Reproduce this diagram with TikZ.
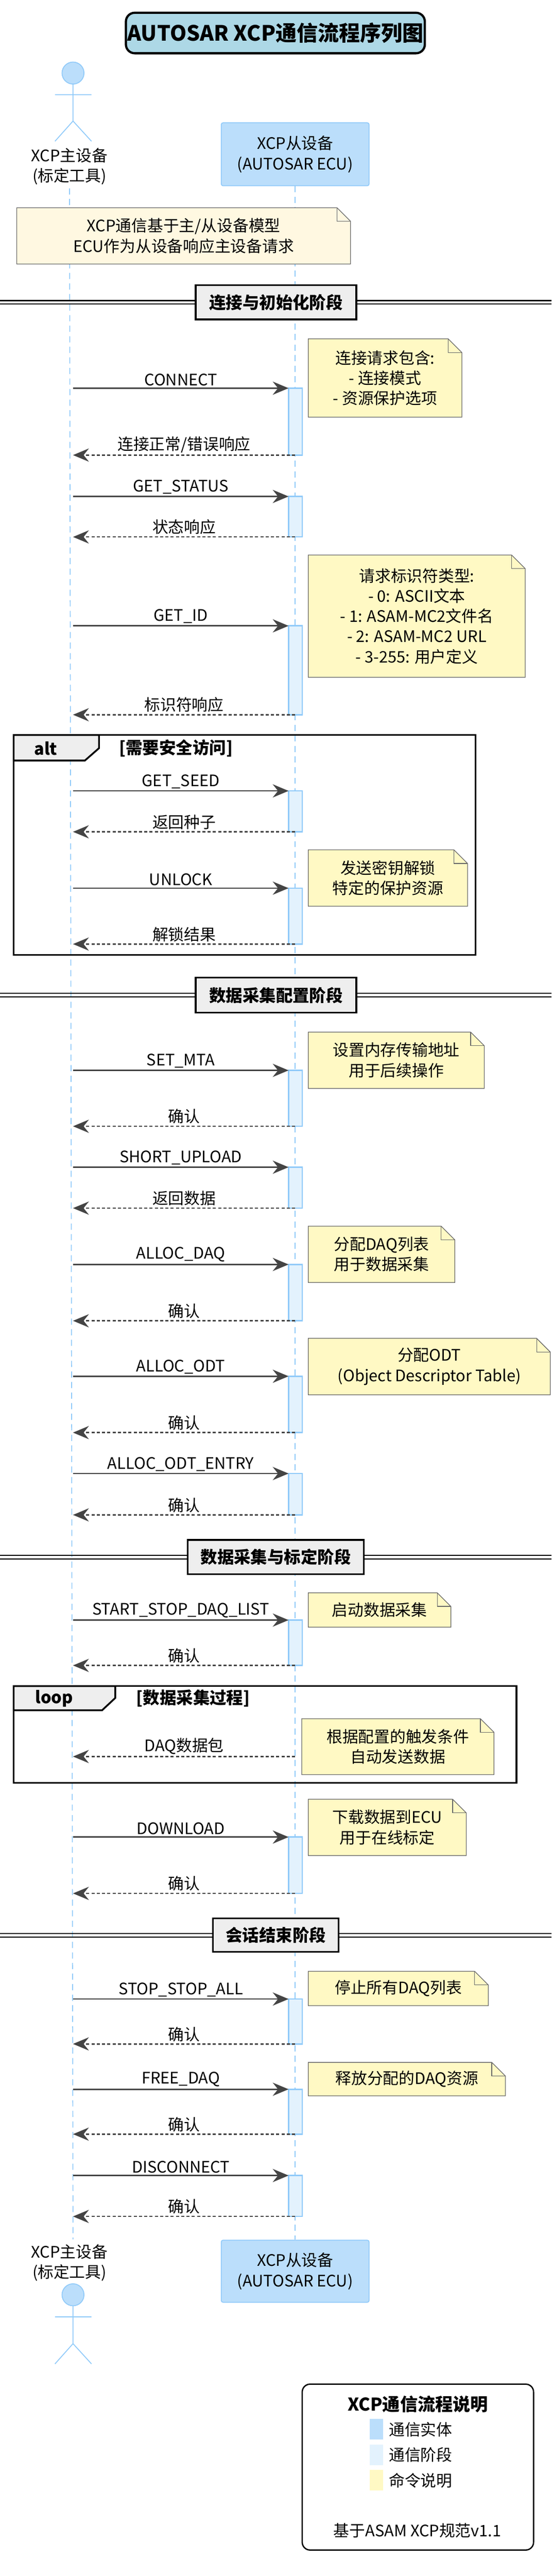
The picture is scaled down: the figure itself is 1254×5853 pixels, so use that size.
\documentclass[tikz,border=0pt]{standalone}
\usepackage{fontspec}
\setmainfont{Noto Sans CJK SC}
\usetikzlibrary{arrows.meta}
\definecolor{pfill}{HTML}{BBDEFB}
\definecolor{pline}{HTML}{90CAF9}
\definecolor{actfill}{HTML}{E3F2FD}
\definecolor{nfill}{HTML}{FFF9C4}
\definecolor{nfillA}{HTML}{FFF8E1}
\definecolor{arr}{HTML}{444444}
\definecolor{tfill}{HTML}{ADD8E6}
\definecolor{gfill}{HTML}{EEEEEE}
\newcommand\fsn{\fontsize{36}{46}\selectfont}
\newcommand\fsb{\fontsize{38}{46}\selectfont\bfseries}
\newcommand\reqmsg[3]{%
  \coordinate (#1s) at (166,#2); \coordinate (#1e) at (656,#2);
  \draw[reqarrow] (#1s) -- (#1e) node[msglabel]{#3};}
\newcommand\repmsg[3]{%
  \coordinate (#1s) at (671,#2); \coordinate (#1e) at (166,#2);
  \draw[reparrow] (#1s) -- (#1e) node[msglabel]{#3};}
\newcommand\actbar[3]{\path[actbox] (656,#2) rectangle (687,#3) coordinate (#1);}
\newcommand\notebox[7]{%
  \path[notedraw,fill=#6] (#2,#3) -- (#4-31,#3) -- (#4,#3+31) -- (#4,#5) -- (#2,#5) -- cycle;
  \draw[notedraw] (#4-31,#3) -- (#4-31,#3+31) -- (#4,#3+31);
  \node[align=center,font=\fsn] (#1) at ({(#2+#4)/2},{(#3+#5)/2}) {#7};}
\newcommand\divider[5]{%
  \draw[line width=2.5] (0,#1-4) -- (1254,#1-4);
  \draw[line width=2.5] (0,#1+4) -- (1254,#1+4);
  \node[draw=black,line width=4,fill=gfill,minimum width=#3-#2,minimum height=#4,font=\fsb,inner sep=0] (#5) at ({(#2+#3)/2},#1) {#5};}
\newcommand\actor[5]{%
  \draw[pline,line width=2,fill=pfill] (166,#2) circle (25);
  \draw[pline,line width=2] (166,#2+25) -- (166,#4) (125,#3) -- (208,#3)
     (125,#5) -- (166,#4) -- (208,#5);}
\begin{document}
\begin{tikzpicture}[x=1pt,y=-1pt,
  reqarrow/.style={draw=arr,line width=3,-{Stealth[length=36pt,width=30pt,inset=12pt]}},
  reparrow/.style={draw=arr,line width=3,dash pattern=on 7pt off 5pt,-{Stealth[length=36pt,width=30pt,inset=12pt]}},
  msglabel/.style={midway,above=2pt,font=\fsn,inner sep=2pt},
  actbox/.style={fill=actfill,draw=pline,line width=3},
  notedraw/.style={draw=black!60,line width=1.5},
  lifeline/.style={draw=pline,line width=2,dash pattern=on 14pt off 10pt},
  frameline/.style={draw=black,line width=4}]
\useasboundingbox (0,0) rectangle (1254,5853);
% title
\node[draw=black,line width=5,fill=tfill,rounded corners=20,minimum width=670,minimum height=92,
  font=\fontsize{48}{56}\selectfont\bfseries] (title) at (626,75) {AUTOSAR XCP通信流程序列图};
% participants
\node[draw=pline,line width=2,fill=pfill,rounded corners=4,minimum width=336,minimum height=143,
  align=center,font=\fsn] (slaveTop) at (671,350.5) {XCP从设备\\(AUTOSAR ECU)};
\node[draw=pline,line width=2,fill=pfill,rounded corners=4,minimum width=336,minimum height=141,
  align=center,font=\fsn] (slaveBot) at (671,5160.5) {XCP从设备\\(AUTOSAR ECU)};
\node[align=center,font=\fsn] (masterTop) at (158,378) {XCP主设备\\(标定工具)};
\node[align=center,font=\fsn] (masterBot) at (158,5141) {XCP主设备\\(标定工具)};
\actor{a}{166}{215}{275}{321}
\actor{b}{5214}{5264}{5325}{5371}
\draw[lifeline] (masterTop.south |- 0,428) coordinate (mlt) -- (166,5088) coordinate (mlb);
\draw[lifeline] (slaveTop.south) -- (slaveBot.north);
% note 1
\notebox{n1}{38}{472}{797}{600}{nfillA}{XCP通信基于主/从设备模型\\ECU作为从设备响应主设备请求}
% frames
\draw[frameline] (31,1670) rectangle (1081,2170);
\path[frameline,fill=gfill] (31,1670) -- (225,1670) -- (225,1700) -- (193,1728) -- (31,1728) -- cycle;
\node[font=\fsb] (altlbl) at (104,1700) {alt};
\node[font=\fsb] (altcond) at (400,1700) {[需要安全访问]};
\draw[frameline] (31,3831) rectangle (1174,4051);
\path[frameline,fill=gfill] (31,3831) -- (262,3831) -- (262,3858) -- (232,3886) -- (31,3886) -- cycle;
\node[font=\fsb] (looplbl) at (123,3859) {loop};
\node[font=\fsb] (loopcond) at (439,3859) {[数据采集过程]};
% dividers
\divider{687}{445}{810}{78}{连接与初始化阶段}
\divider{2261}{445}{810}{79}{数据采集配置阶段}
\divider{3538}{427}{827}{78}{数据采集与标定阶段}
\divider{4397}{484}{770}{76}{会话结束阶段}
% activations
\actbar{b1}{882}{1034}
\actbar{b2}{1128}{1220}
\actbar{b3}{1422}{1624}
\actbar{b4}{1797}{1890}
\actbar{b5}{2018}{2145}
\actbar{b6}{2432}{2559}
\actbar{b7}{2652}{2745}
\actbar{b8}{2873}{3001}
\actbar{b9}{3127}{3255}
\actbar{b10}{3348}{3442}
\actbar{b11}{3681}{3784}
\actbar{b12}{4174}{4302}
\actbar{b13}{4542}{4644}
\actbar{b14}{4747}{4849}
\actbar{b15}{4943}{5036}
% messages
\reqmsg{m1}{882}{CONNECT}
\repmsg{r1}{1034}{连接正常/错误响应}
\reqmsg{m2}{1128}{GET\_STATUS}
\repmsg{r2}{1220}{状态响应}
\reqmsg{m3}{1422}{GET\_ID}
\repmsg{r3}{1624}{标识符响应}
\reqmsg{m4}{1797}{GET\_SEED}
\repmsg{r4}{1890}{返回种子}
\reqmsg{m5}{2018}{UNLOCK}
\repmsg{r5}{2145}{解锁结果}
\reqmsg{m6}{2432}{SET\_MTA}
\repmsg{r6}{2559}{确认}
\reqmsg{m7}{2652}{SHORT\_UPLOAD}
\repmsg{r7}{2745}{返回数据}
\reqmsg{m8}{2873}{ALLOC\_DAQ}
\repmsg{r8}{3001}{确认}
\reqmsg{m9}{3127}{ALLOC\_ODT}
\repmsg{r9}{3255}{确认}
\reqmsg{m10}{3348}{ALLOC\_ODT\_ENTRY}
\repmsg{r10}{3442}{确认}
\reqmsg{m11}{3681}{START\_STOP\_DAQ\_LIST}
\repmsg{r11}{3784}{确认}
\repmsg{r12}{3991}{DAQ数据包}
\reqmsg{m13}{4174}{DOWNLOAD}
\repmsg{r13}{4302}{确认}
\reqmsg{m14}{4542}{STOP\_STOP\_ALL}
\repmsg{r14}{4644}{确认}
\reqmsg{m15}{4747}{FREE\_DAQ}
\repmsg{r15}{4849}{确认}
\reqmsg{m16}{4943}{DISCONNECT}
\repmsg{r16}{5036}{确认}
% notes
\notebox{n2}{701}{770}{1050}{948}{nfill}{连接请求包含:\\- 连接模式\\- 资源保护选项}
\notebox{n3}{701}{1261}{1194}{1539}{nfill}{请求标识符类型:\\- 0: ASCII文本\\- 1: ASAM-MC2文件名\\- 2: ASAM-MC2 URL\\- 3-255: 用户定义}
\notebox{n4}{701}{1931}{1063}{2059}{nfill}{发送密钥解锁\\特定的保护资源}
\notebox{n5}{701}{2345}{1101}{2473}{nfill}{设置内存传输地址\\用于后续操作}
\notebox{n6}{701}{2786}{1034}{2914}{nfill}{分配DAQ列表\\用于数据采集}
\notebox{n7}{701}{3041}{1251}{3169}{nfill}{分配ODT\\(Object Descriptor Table)}
\notebox{n8}{701}{3619}{1025}{3697}{nfill}{启动数据采集}
\notebox{n9}{686}{3905}{1123}{4032}{nfill}{根据配置的触发条件\\自动发送数据}
\notebox{n10}{701}{4088}{1060}{4216}{nfill}{下载数据到ECU\\用于在线标定}
\notebox{n11}{701}{4479}{1110}{4557}{nfill}{停止所有DAQ列表}
\notebox{n12}{701}{4686}{1149}{4762}{nfill}{释放分配的DAQ资源}
% legend
\node[draw=black,line width=3,fill=white,rounded corners=18,minimum width=526,minimum height=377] (legend) at (950,5605.5) {};
\node[font=\fontsize{40}{46}\selectfont\bfseries] (legtitle) at (950,5463) {XCP通信流程说明};
\path[fill=pfill] (840,5496) rectangle (871,5543);
\path[fill=actfill] (840,5555) rectangle (871,5601);
\path[fill=nfill] (840,5612) rectangle (871,5659);
\node[font=\fsn,anchor=west,inner sep=0] (leg1) at (884,5520) {通信实体};
\node[font=\fsn,anchor=west,inner sep=0] (leg2) at (884,5578) {通信阶段};
\node[font=\fsn,anchor=west,inner sep=0] (leg3) at (884,5636) {命令说明};
\node[font=\fsn] (legfoot) at (949,5750) {基于ASAM XCP规范v1.1};
\end{tikzpicture}
\end{document}
